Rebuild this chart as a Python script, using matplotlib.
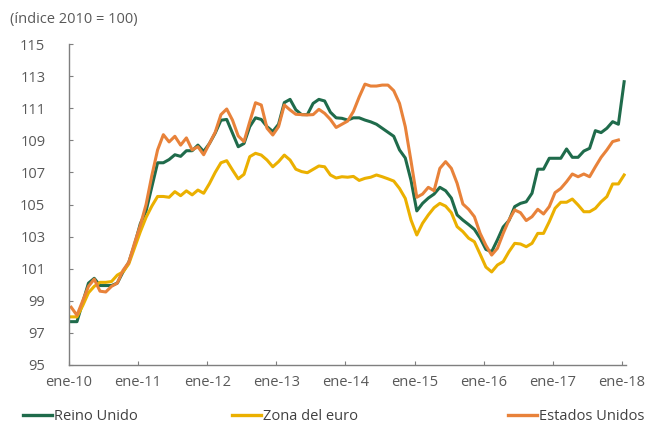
import numpy as np
import matplotlib
matplotlib.use('Agg')
import matplotlib.pyplot as plt
from matplotlib.lines import Line2D

# monthly index, ene-2010 .. ene-2018 (2010 = 100)
reino_unido = [
    97.7, 97.7, 98.9, 100.1, 100.4, 99.95, 99.95, 99.95, 100.1, 100.8, 101.4, 102.5,
    103.8, 104.6, 106.1, 107.6, 107.6, 107.8, 108.1, 108.0, 108.35, 108.35, 108.7, 108.3,
    108.8, 109.45, 110.25, 110.3, 109.45, 108.6, 108.8, 109.85, 110.4, 110.3, 109.85, 109.55,
    110.0, 111.35, 111.55, 110.9, 110.6, 110.6, 111.3, 111.55, 111.45, 110.75, 110.4, 110.37,
    110.26, 110.4, 110.4, 110.26, 110.15, 110.0, 109.75, 109.5, 109.25, 108.4, 107.9, 106.5,
    104.6, 105.07, 105.4, 105.65, 106.07, 105.86, 105.4, 104.35, 104.03, 103.75, 103.45, 102.9,
    102.2, 102.06, 102.8, 103.6, 104.0, 104.87, 105.07, 105.17, 105.7, 107.2, 107.2, 107.88,
    107.88, 107.88, 108.46, 107.94, 107.94, 108.33, 108.5, 109.6, 109.48, 109.75, 110.16, 110.0,
    112.65]
zona_euro = [
    98.0, 98.0, 98.7, 99.5, 99.9, 100.15, 100.15, 100.2, 100.6, 100.8, 101.3, 102.3,
    103.3, 104.2, 104.9, 105.5, 105.5, 105.45, 105.8, 105.55, 105.85, 105.6, 105.9, 105.7,
    106.3, 107.0, 107.6, 107.73, 107.15, 106.6, 106.88, 107.98, 108.19, 108.08, 107.77, 107.35,
    107.67, 108.08, 107.77, 107.2, 107.05, 106.98, 107.19, 107.4, 107.35, 106.84, 106.65, 106.73,
    106.7, 106.75, 106.5, 106.63, 106.7, 106.84, 106.73, 106.6, 106.46, 106.0, 105.38, 104.03,
    103.1, 103.83, 104.35, 104.8, 105.07, 104.9, 104.49, 103.62, 103.31, 102.9, 102.68, 101.9,
    101.1, 100.8, 101.23, 101.44, 102.06, 102.58, 102.54, 102.37, 102.58, 103.2, 103.2, 103.93,
    104.76, 105.14, 105.14, 105.34, 104.97, 104.55, 104.55, 104.76, 105.17, 105.49, 106.28, 106.28,
    106.84]
estados_unidos = [
    98.6, 98.1, 99.0, 99.9, 100.35, 99.6, 99.55, 99.9, 100.1, 100.9, 101.4, 102.6,
    103.7, 105.0, 106.8, 108.4, 109.35, 108.9, 109.25, 108.7, 109.15, 108.4, 108.6, 108.1,
    108.8, 109.5, 110.6, 110.95, 110.26, 109.27, 108.92, 110.16, 111.34, 111.2, 109.75, 109.33,
    109.85, 111.2, 110.89, 110.62, 110.6, 110.58, 110.6, 110.93, 110.68, 110.3, 109.8, 110.0,
    110.2, 110.8, 111.7, 112.5, 112.38, 112.38, 112.44, 112.44, 112.09, 111.3, 109.85, 107.7,
    105.45, 105.65, 106.07, 105.86, 107.25, 107.67, 107.25, 106.32, 105.03, 104.7, 104.24, 103.2,
    102.45, 101.85, 102.27, 103.2, 104.03, 104.66, 104.49, 104.0, 104.24, 104.7, 104.41, 104.87,
    105.74, 106.0, 106.42, 106.9, 106.73, 106.9, 106.73, 107.35, 107.94, 108.4, 108.92, 109.02,
    np.nan]
tick_labels = ['ene-10', 'ene-11', 'ene-12', 'ene-13', 'ene-14',
               'ene-15', 'ene-16', 'ene-17', 'ene-18']

green = '#1f6b4b'
yellow = '#ebb000'
orange = '#e8823a'
grey = '#595959'

plt.rcParams['font.family'] = ['Open Sans', 'DejaVu Sans']

fig = plt.figure(figsize=(6.51, 4.24), dpi=100)
ax = fig.add_axes([69/651, 1-365/424, (626-69)/651, (365-44)/424])

x = np.arange(len(reino_unido)) + 0.38
ax.plot(x, reino_unido, color=green, lw=2.2)
ax.plot(x, zona_euro, color=yellow, lw=2.2)
ax.plot(x, estados_unidos, color=orange, lw=2.2)

ax.set_xlim(0, 96.7)
ax.set_ylim(95, 115)
ax.set_yticks(np.arange(95, 116, 2))
ax.set_xticks(np.arange(0, 97, 12))
ax.set_xticklabels(tick_labels)

for s in ['top', 'right']:
    ax.spines[s].set_visible(False)
for s in ['left', 'bottom']:
    ax.spines[s].set_color('#7f7f7f')
    ax.spines[s].set_linewidth(1.0)

ax.tick_params(axis='y', direction='in', length=3, color='#7f7f7f',
               labelsize=10.5, labelcolor=grey, pad=17)
ax.tick_params(axis='x', direction='in', length=3, color='#7f7f7f',
               labelsize=10.5, labelcolor=grey, pad=7)

fig.text(10/651, 1-19/424, '(índice 2010 = 100)', fontsize=10.5, color=grey,
         ha='left', va='center')

# legend entries spread along the bottom
names = ['Reino Unido', 'Zona del euro', 'Estados Unidos']
colors = [green, yellow, orange]
lefts = [23, 232, 508]
for name, c, xl in zip(names, colors, lefts):
    h = Line2D([], [], color=c, lw=2.4)
    fig.legend([h], [name], loc='center left',
               bbox_to_anchor=(xl/651, 1-417/424), frameon=False,
               handlelength=2.0, handletextpad=0.15, borderpad=0,
               borderaxespad=0, fontsize=10.5, labelcolor='#404040')

fig.savefig('out.png', dpi=100)
